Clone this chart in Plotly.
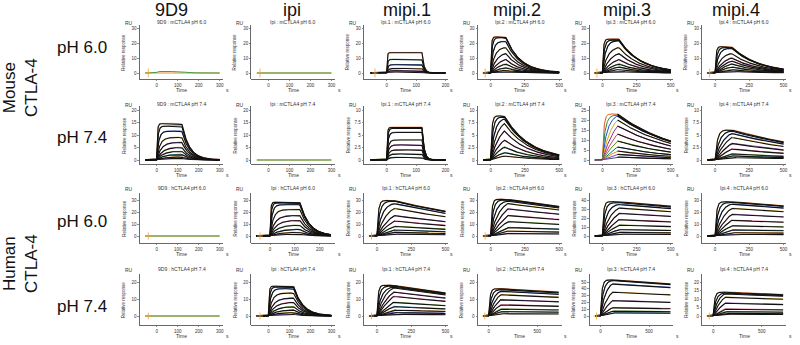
import numpy as np
import plotly.graph_objects as go

# ---------------- text ----------------
col_headers = ["9D9", "ipi", "mipi.1", "mipi.2", "mipi.3", "mipi.4"]
row_labels = ["pH 6.0", "pH 7.4", "pH 6.0", "pH 7.4"]
species_labels = ["Mouse<br>CTLA-4", "Human<br>CTLA-4"]
panel_antibodies = ["9D9", "Ipi", "Ipi.1", "Ipi.2", "Ipi.3", "Ipi.4"]
panel_targets = ["mCTLA4 pH 6.0", "mCTLA4 pH 7.4", "hCTLA4 pH 6.0", "hCTLA4 pH 7.4"]

# ---------------- data ----------------
# Response (RU) at end of association for each concentration (highest first)
peaks_mouse_ph60 = [
    [0.3, 1.0],
    [0.2, -0.3],
    [13.5, 9.0, 5.5, 3.0, 1.5, 0.7],
    [24.0, 23.5, 21.0, 17.0, 13.0, 9.0, 6.0, 3.5, 1.8, 0.8],
    [22.5, 22.0, 21.5, 17.0, 13.0, 9.0, 6.0, 4.0, 2.3, 1.0],
    [17.5, 17.0, 16.5, 13.0, 10.0, 8.0, 6.0, 4.0, 2.2, 1.0],
]
peaks_mouse_ph74 = [
    [14.5, 13.5, 11.5, 9.0, 7.0, 5.0, 3.5, 2.2, 1.2, 0.6],
    [0.3, 0.1],
    [6.5, 6.3, 5.5, 4.0, 3.0, 2.0, 1.2, 0.5],
    [8.8, 8.6, 8.2, 7.3, 5.8, 4.0, 2.6, 1.5, 0.8],
    [23.0, 22.5, 22.0, 20.0, 17.0, 13.0, 9.5, 6.5, 4.5, 2.8, 1.5],
    [6.0, 5.8, 5.3, 4.5, 3.3, 2.2, 1.2, 0.8, 0.5],
]
peaks_human_ph60 = [
    [0.6, 0.3],
    [28.0, 27.5, 26.0, 22.0, 17.0, 13.0, 9.0, 5.5, 3.0, 1.5],
    [29.5, 29.0, 27.0, 23.0, 17.0, 12.5, 8.0, 5.0, 3.0, 1.5],
    [30.5, 30.0, 29.0, 27.0, 22.5, 17.0, 12.0, 7.0, 4.0, 2.0],
    [38.0, 37.0, 35.0, 31.0, 25.0, 18.0, 12.0, 7.0, 4.0, 2.0],
    [28.5, 28.0, 26.5, 23.0, 18.0, 13.0, 8.5, 5.0, 2.7, 1.3],
]
peaks_human_ph74 = [
    [0.4, 0.2],
    [17.5, 17.0, 16.0, 13.5, 10.5, 8.0, 5.5, 3.5, 2.0, 1.0],
    [18.0, 17.6, 17.0, 16.5, 14.0, 11.5, 8.0, 5.5, 3.5, 2.0, 1.0],
    [16.0, 15.5, 14.5, 12.5, 9.5, 6.5, 4.0, 2.5, 1.3],
    [53.0, 52.0, 47.0, 35.0, 22.5, 12.0, 7.0, 4.5],
    [14.0, 13.5, 13.0, 11.0, 7.5, 4.0, 2.5, 1.5, 1.0],
]
peaks = [peaks_mouse_ph60, peaks_mouse_ph74, peaks_human_ph60, peaks_human_ph74]

# Response (RU) of the highest curve at the end of the run
final_top = [
    [0.001, 0.001, 0.0001, 0.6, 2.0, 2.5],
    [0.1, 0.001, 0.0001, 1.0, 9.5, 3.6],
    [0.001, 1.0, 20.5, 24.5, 33.0, 25.0],
    [0.001, 0.3, 13.5, 14.0, 47.0, 12.5],
]
# Observed association rate of the highest concentration (1/s)
kon_top = [
    [0.5, 0.5, 0.5, 0.2, 0.15, 0.15],
    [0.3, 0.5, 0.4, 0.12, 0.1, 0.06],
    [0.5, 0.4, 0.1, 0.12, 0.12, 0.1],
    [0.5, 0.3, 0.12, 0.08, 0.07, 0.07],
]
assoc_end = [
    [120, 120, 120, 110, 120, 120],
    [120, 120, 120, 100, 110, 120],
    [120, 120, 125, 125, 120, 120],
    [120, 120, 120, 120, 120, 120],
]
run_end = [
    [300, 300, 200, 500, 500, 500],
    [300, 300, 200, 500, 500, 500],
    [300, 245, 500, 500, 500, 500],
    [300, 300, 500, 720, 720, 720],
]
binder = [
    [0, 0, 1, 1, 1, 1],
    [1, 0, 1, 1, 1, 1],
    [0, 1, 1, 1, 1, 1],
    [0, 1, 1, 1, 1, 1],
]
injection_spike = [
    [1, 1, 1, 1, 1, 1],
    [0, 0, 0, 0, 0, 0],
    [1, 1, 1, 1, 0, 0],
    [1, 1, 1, 1, 1, 1],
]
spike_time = -40
x_tick_step = [
    [100, 100, 100, 250, 250, 250],
    [100, 100, 100, 250, 250, 250],
    [100, 100, 250, 250, 250, 250],
    [100, 100, 250, 500, 500, 500],
]
y_top_tick = [
    [30, 30, 30, 30, 30, 30],
    [20, 20, 10, 10, 25, 10],
    [30, 30, 30, 30, 40, 30],
    [20, 20, 20, 20, 50, 20],
]
y_tick_step = [
    [10, 10, 10, 10, 10, 10],
    [5, 5, 2.5, 2.5, 5, 2.5],
    [10, 10, 10, 10, 10, 10],
    [10, 10, 10, 10, 10, 5],
]
colored_association = [
    [0, 0, 0, 0, 0, 0],
    [0, 0, 0, 0, 1, 0],
    [0, 0, 0, 0, 0, 0],
    [0, 0, 0, 0, 0, 0],
]

# ---------------- layout geometry (window pixels) ----------------
W, H = 800, 345
AX_X = [140, 252, 365, 479, 591, 704]
PLOT_W = 84
ROW_P0 = [73, 160, 236, 316]     # pixel of y = 0
ROW_PT = [28, 110, 200, 282]     # pixel of top tick
ROW_PB = [79, 164, 243, 325]     # pixel of x-axis line
ROW_DT = [25, 106, 193, 274]     # top of plotting area
TITLE_Y = [22, 104, 188, 269]
HEADER_X = [172, 293, 408, 518, 629, 738]
ROW_LABEL_Y = [47, 137, 222, 306]
SPECIES_Y = [87, 263]
X_LIMITS = {200: (-77, 208), 245: (-75, 262), 300: (-81, 318), 500: (-94, 518), 720: (-112, 750)}

FIT_COLORS = ['#e8590c', '#2b8a3e', '#1c4fd8', '#e0a800', '#862e9c', '#d6336c',
              '#5c940d', '#0b7285', '#f08c00', '#7048e8', '#495057']
NB_COLORS = ['#e8902a', '#3f9e4d', '#d4a017']
FONT = "Liberation Sans, Arial, sans-serif"


def px(x):
    return x / W


def py(y):
    return 1 - y / H


def sensorgram(t, r, ta, kobs, koff):
    assoc = r * (1 - np.exp(-kobs * np.clip(t, 0, None))) / (1 - np.exp(-kobs * ta))
    dis = r * np.exp(-koff * (t - ta))
    return np.where(t < 0, 0.0, np.where(t <= ta, assoc, dis))


def note(x, y, text, size, color='#333', angle=0):
    return dict(x=px(x), y=py(y), xref='paper', yref='paper', showarrow=False,
                xanchor='center', yanchor='middle', text=text, textangle=angle,
                font=dict(size=size, family=FONT, color=color))


fig = go.Figure()
annotations = []
layout_axes = {}

for r in range(4):
    for c in range(6):
        idx = r * 6 + c + 1
        xname = 'x' if idx == 1 else f'x{idx}'
        yname = 'y' if idx == 1 else f'y{idx}'
        xkey = 'xaxis' if idx == 1 else f'xaxis{idx}'
        ykey = 'yaxis' if idx == 1 else f'yaxis{idx}'

        T = run_end[r][c]
        ta = assoc_end[r][c]
        xmin, xmax = X_LIMITS[T]
        ytop = y_top_tick[r][c]
        ystep = y_tick_step[r][c]
        scale = (ROW_P0[r] - ROW_PT[r]) / ytop
        ymin = -(ROW_PB[r] - ROW_P0[r]) / scale
        ymax = ytop + (ROW_PT[r] - ROW_DT[r]) / scale

        series = peaks[r][c]
        top = max(abs(v) for v in series)
        ft = final_top[r][c]
        koff = np.log(top / ft) / (T - ta) if ft > 0 else 0.1
        t = np.linspace(-55, T, 500)

        black_x, black_y = [], []
        for i, pk in enumerate(series):
            kobs = koff + kon_top[r][c] * 0.5 ** i
            yv = sensorgram(t, pk, ta, kobs, koff)
            if binder[r][c]:
                col = FIT_COLORS[i % len(FIT_COLORS)]
                off = 0.006 * (ymax - ymin)
                if colored_association[r][c]:
                    fig.add_trace(go.Scatter(x=t, y=yv, mode='lines', xaxis=xname, yaxis=yname,
                                             line=dict(color=col, width=1.0), hoverinfo='skip'))
                    m = t >= ta
                    black_x += list(t[m]) + [None]
                    black_y += list(yv[m]) + [None]
                else:
                    fig.add_trace(go.Scatter(x=t, y=yv + off, mode='lines', xaxis=xname, yaxis=yname,
                                             line=dict(color=col, width=0.8), hoverinfo='skip'))
                    black_x += list(t) + [None]
                    black_y += list(yv) + [None]
            else:
                col = NB_COLORS[i % len(NB_COLORS)]
                fig.add_trace(go.Scatter(x=t, y=yv, mode='lines', xaxis=xname, yaxis=yname,
                                         line=dict(color=col, width=1.0), hoverinfo='skip'))
        if black_x:
            fig.add_trace(go.Scatter(x=black_x, y=black_y, mode='lines', xaxis=xname, yaxis=yname,
                                     line=dict(color='#111111', width=1.1), hoverinfo='skip'))

        if injection_spike[r][c]:
            s = 0.1 * ytop
            w = 0.035 * (xmax - xmin)
            fig.add_trace(go.Scatter(
                x=[spike_time, spike_time, None, spike_time - w, spike_time + w],
                y=[-s, s, None, 0, 0], mode='lines', xaxis=xname, yaxis=yname,
                line=dict(color='#e8a33a', width=0.8), hoverinfo='skip'))

        x0 = px(AX_X[c])
        x1 = px(AX_X[c] + PLOT_W)
        xstep = x_tick_step[r][c]
        xticks = list(np.arange(0, xmax + 1e-9, xstep))
        yticks = list(np.arange(0, ytop + ystep / 2, ystep))
        layout_axes[xkey] = dict(
            domain=[x0, x1], range=[xmin, xmax], anchor=yname,
            showline=True, linecolor='#444', linewidth=0.8, showgrid=False, zeroline=False,
            ticks='outside', ticklen=1.5, tickwidth=0.6, tickcolor='#444',
            tickmode='array', tickvals=xticks, ticktext=[f"{v:g}" for v in xticks],
            tickfont=dict(size=4.5, color='#333', family=FONT))
        layout_axes[ykey] = dict(
            domain=[py(ROW_PB[r]), py(ROW_DT[r])], range=[ymin, ymax], anchor=xname,
            showline=True, linecolor='#444', linewidth=0.8, showgrid=False, zeroline=False,
            ticks='outside', ticklen=1.5, tickwidth=0.6, tickcolor='#444',
            tickmode='array', tickvals=yticks, ticktext=[f"{v:g}" for v in yticks],
            tickfont=dict(size=4.5, color='#333', family=FONT))

        cx = AX_X[c] + PLOT_W / 2
        annotations += [
            note(cx, TITLE_Y[r], f"{panel_antibodies[c]} : {panel_targets[r]}", 5),
            note(AX_X[c] - 11, TITLE_Y[r] + 1, "RU", 5),
            note(AX_X[c] - 16, (ROW_PB[r] + ROW_DT[r]) / 2, "Relative response", 4.5, angle=-90),
            note(cx, ROW_PB[r] + 11, "Time", 5),
            note(AX_X[c] + PLOT_W + 4, ROW_PB[r] + 11, "s", 5),
        ]

for c, h in enumerate(col_headers):
    annotations.append(note(HEADER_X[c], 10, h, 18, color='#111'))
for r, lab in enumerate(row_labels):
    annotations.append(note(82, ROW_LABEL_Y[r], lab, 17, color='#111'))
for k, lab in enumerate(species_labels):
    annotations.append(note(20, SPECIES_Y[k], lab, 17, color='#111', angle=-90))

fig.update_layout(
    width=W, height=H, margin=dict(l=0, r=0, t=0, b=0),
    paper_bgcolor='white', plot_bgcolor='white', showlegend=False,
    annotations=annotations, **layout_axes)

# remove the browser's default 8px page margin so the figure fills the window
fig.write_html("out.html", config={'displayModeBar': False, 'staticPlot': True},
               post_script="document.body.style.margin='0px';")
